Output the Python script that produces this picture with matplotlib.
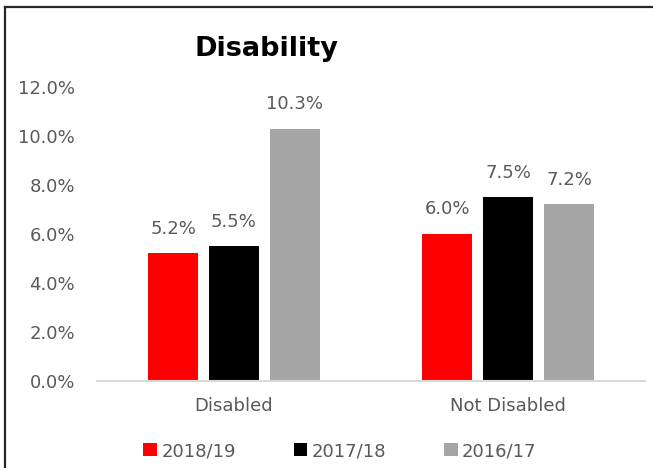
import matplotlib
matplotlib.use("Agg")
import matplotlib.pyplot as plt
import numpy as np
from matplotlib.lines import Line2D
from matplotlib.patches import Patch

categories = ["Disabled", "Not Disabled"]
series_names = ["2018/19", "2017/18", "2016/17"]
values_2018_19 = [5.2, 6.0]
values_2017_18 = [5.5, 7.5]
values_2016_17 = [10.3, 7.2]
series_values = [values_2018_19, values_2017_18, values_2016_17]
colors = ["#ff0000", "#000000", "#a5a5a5"]
yticks = [0, 2, 4, 6, 8, 10, 12]

TXT = "#595959"
W, H = 653, 468
fig = plt.figure(figsize=(W / 100, H / 100), dpi=100)
ax = fig.add_axes([97 / W, 1 - 380.5 / H, (645 - 97) / W, (380.5 - 87) / H])

x = np.arange(len(categories))
bw = 0.179
off = 0.2226
for i, (name, vals, c) in enumerate(zip(series_names, series_values, colors)):
    pos = x + (i - 1) * off
    bars = ax.bar(pos, vals, width=bw, color=c, label=name, zorder=2)
    for b, v in zip(bars, vals):
        ax.annotate(f"{v:.1f}%", (b.get_x() + b.get_width() / 2, v),
                    xytext=(0, 11), textcoords="offset points",
                    ha="center", va="bottom", fontsize=13, color=TXT)

ax.set_xlim(-0.5, 1.5)
ax.set_ylim(0, 12)
ax.set_yticks(yticks)
ax.set_yticklabels([f"{t:.1f}%" for t in yticks])
ax.set_xticks(x)
ax.set_xticklabels(categories)
ax.tick_params(axis="y", length=0, pad=16, labelsize=13, labelcolor=TXT)
ax.tick_params(axis="x", length=0, pad=12, labelsize=13, labelcolor=TXT)
for s in ["left", "right", "top"]:
    ax.spines[s].set_visible(False)
ax.spines["bottom"].set_color("#d9d9d9")
ax.spines["bottom"].set_linewidth(1.5)

fig.text(266 / W, 1 - 49 / H, "Disability", ha="center", va="center",
         fontsize=19.5, fontweight="bold", color="#000000")

handles = [Patch(facecolor=c, edgecolor="none") for c in colors]
fig.legend(handles, series_names, loc="center", bbox_to_anchor=(340 / W, 1 - 451 / H),
           ncol=3, frameon=False, fontsize=13, labelcolor=TXT,
           handlelength=0.75, handleheight=0.75, handletextpad=0.25, columnspacing=3.2)

fig.add_artist(Line2D([5 / W, 5 / W], [0, 1 - 7 / H], color="#262626", lw=1.6,
                      transform=fig.transFigure))
fig.add_artist(Line2D([5 / W, 1], [1 - 7 / H, 1 - 7 / H], color="#262626", lw=1.6,
                      transform=fig.transFigure))

fig.savefig("out.png", dpi=100)
